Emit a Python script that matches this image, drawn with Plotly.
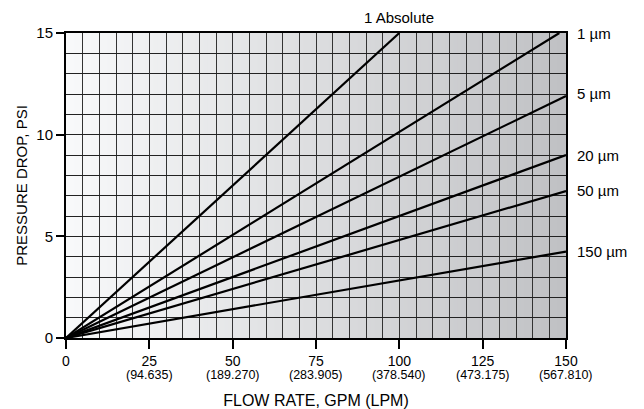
import plotly.graph_objects as go

# Data
series_names = ["1 Absolute", "1 µm", "5 µm", "20 µm", "50 µm", "150 µm"]
series_x_end = [100, 148, 150, 150, 150, 150]
series_y_end = [15.0, 15.0, 11.9, 9.0, 7.23, 4.25]
x_ticks = [0, 25, 50, 75, 100, 125, 150]
x_lpm = ["", "(94.635)", "(189.270)", "(283.905)", "(378.540)", "(473.175)", "(567.810)"]
y_ticks = [0, 5, 10, 15]

FONT = "Liberation Sans, Arial, sans-serif"
label_yshift = {"5 µm": 3}

fig = go.Figure()

for name, xe, ye in zip(series_names, series_x_end, series_y_end):
    fig.add_trace(go.Scatter(x=[0, xe], y=[0, ye], mode="lines",
                             line=dict(color="black", width=2.2),
                             name=name, showlegend=False, hoverinfo="skip"))

# Background gradient (style) as thin strips below grid
shapes = []
n = 120
c0 = (248, 249, 250)
c1 = (192, 193, 196)
for i in range(n):
    t = i / (n - 1)
    r = round(c0[0] + (c1[0] - c0[0]) * t)
    g = round(c0[1] + (c1[1] - c0[1]) * t)
    b = round(c0[2] + (c1[2] - c0[2]) * t)
    x0 = 150 * i / n
    x1 = 150 * (i + 1) / n + 0.3
    shapes.append(dict(type="rect", xref="x", yref="y", x0=x0, x1=min(x1, 150),
                       y0=0, y1=15, layer="below", line=dict(width=0),
                       fillcolor=f"rgb({r},{g},{b})"))

annotations = []
for name, xe, ye in zip(series_names, series_x_end, series_y_end):
    if name == "1 Absolute":
        annotations.append(dict(x=xe, y=1.0, xref="x", yref="paper", yanchor="bottom",
                                yshift=5, text=name, showarrow=False,
                                font=dict(family=FONT, size=15, color="black")))
    else:
        annotations.append(dict(x=1.0, y=ye, xref="paper", yref="y", xanchor="left",
                                xshift=9, yshift=label_yshift.get(name, 0),
                                text=name, showarrow=False,
                                font=dict(family=FONT, size=15, color="black")))

# LPM secondary tick labels
for v, l in zip(x_ticks, x_lpm):
    if l:
        annotations.append(dict(x=v, y=0, xref="x", yref="paper", yanchor="top",
                                yshift=-28, text=l, showarrow=False,
                                font=dict(family=FONT, size=12.5, color="black")))

fig.update_layout(
    width=636, height=401,
    margin=dict(l=58, r=78, t=25, b=71),
    paper_bgcolor="white", plot_bgcolor="white",
    shapes=shapes, annotations=annotations,
    font=dict(family=FONT, size=14, color="black"),
    xaxis=dict(range=[0, 150], tickvals=x_ticks, automargin=False,
               ticks="outside", ticklen=9, tickwidth=2, tickcolor="black",
               showline=True, linewidth=2, linecolor="black", mirror=True,
               showgrid=True, gridcolor="#333", gridwidth=1,
               minor=dict(dtick=5, showgrid=True, gridcolor="#333", gridwidth=1),
               zeroline=False,
               tickfont=dict(family=FONT, size=14),
               title=dict(text="FLOW RATE, GPM (LPM)", font=dict(family=FONT, size=16), standoff=29)),
    yaxis=dict(range=[0, 15], tickvals=y_ticks, automargin=False,
               ticks="outside", ticklen=8, tickwidth=2, tickcolor="black",
               showline=True, linewidth=2, linecolor="black", mirror=True,
               showgrid=True, gridcolor="#222", gridwidth=1,
               minor=dict(dtick=1, showgrid=True, gridcolor="#222", gridwidth=1),
               zeroline=False,
               tickfont=dict(family=FONT, size=15),
               title=dict(text="PRESSURE DROP, PSI", font=dict(family=FONT, size=15), standoff=5)),
)

fig.write_html("out.html")
